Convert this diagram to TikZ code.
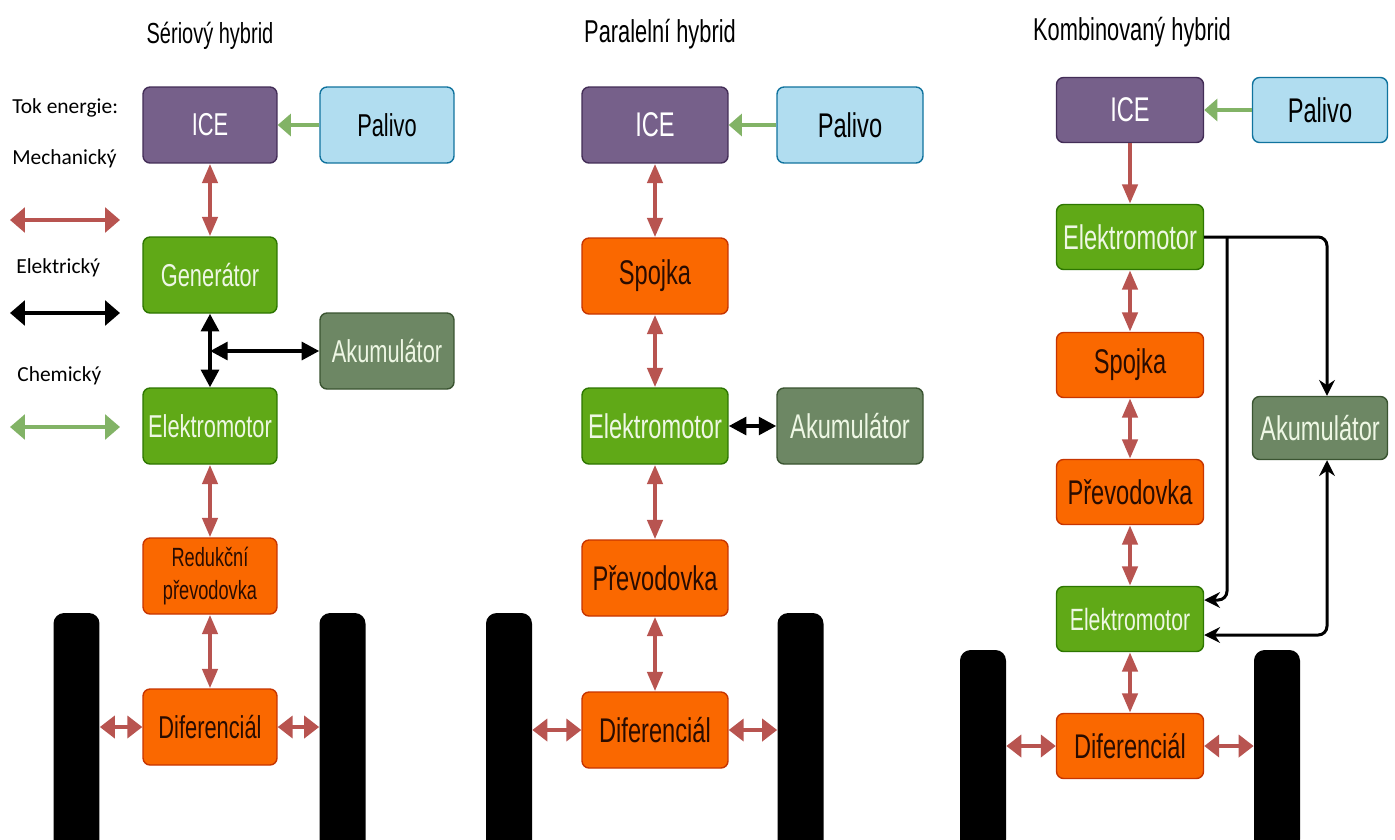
\documentclass[tikz,border=0pt]{standalone}
\usepackage{fontspec}
\setmainfont{Liberation Sans}[FakeStretch=0.69]
\newfontfamily\legendfont{Carlito}
\usepackage{xcolor}
\usetikzlibrary{arrows.meta}
\definecolor{iceFill}{HTML}{76608A}
\definecolor{iceLine}{HTML}{432D57}
\definecolor{palFill}{HTML}{B1DDF0}
\definecolor{palLine}{HTML}{10739E}
\definecolor{genFill}{HTML}{60A917}
\definecolor{genLine}{HTML}{2D7600}
\definecolor{akuFill}{HTML}{6D8764}
\definecolor{akuLine}{HTML}{3A5431}
\definecolor{oraFill}{HTML}{FA6800}
\definecolor{oraLine}{HTML}{C73500}
\definecolor{mechCol}{HTML}{B85450}
\definecolor{chemCol}{HTML}{82B366}
\definecolor{lightText}{HTML}{EEF7E4}
\definecolor{darkText}{HTML}{2A0C00}

\begin{document}
\begin{tikzpicture}[x=0.02cm,y=0.02cm]
\tikzstyle{every node}+=[inner sep=0pt]
\tikzstyle{blok}=[draw, rounded corners=4pt, line width=0.8pt, align=center, font=\fontsize{19.5}{22}\selectfont]
\tikzstyle{aBlok}=[blok, minimum width=2.68cm, minimum height=1.52cm, font=\fontsize{18}{20}\selectfont]
\tikzstyle{bBlok}=[blok, minimum width=2.92cm, minimum height=1.52cm]
\tikzstyle{cBlok}=[blok, minimum width=2.94cm, minimum height=1.3cm]
\tikzstyle{ice}=[fill=iceFill, draw=iceLine, text=white]
\tikzstyle{palivo}=[fill=palFill, draw=palLine, text=black]
\tikzstyle{motor}=[fill=genFill, draw=genLine, text=lightText]
\tikzstyle{aku}=[fill=akuFill, draw=akuLine, text=lightText]
\tikzstyle{oranz}=[fill=oraFill, draw=oraLine, text=darkText]
\tikzstyle{kolo}=[fill=black, rounded corners=6pt, minimum width=0.92cm, minimum height=4.8cm]
\tikzstyle{titul}=[anchor=base, font=\fontsize{18}{20}\selectfont]
\tikzstyle{legenda}=[anchor=base west, font=\legendfont\fontsize{12.2}{14}\selectfont]
\tikzstyle{mech}=[draw=mechCol, line width=2.4pt, arrows={Triangle[width=8.5pt,length=11pt]-Triangle[width=8.5pt,length=11pt]}]
\tikzstyle{mechH}=[draw=mechCol, line width=2.6pt, arrows={Triangle[width=12.5pt,length=8.5pt]-Triangle[width=12.5pt,length=8.5pt]}]
\tikzstyle{mechLeg}=[draw=mechCol, line width=2.8pt, arrows={Triangle[width=14pt,length=8.5pt]-Triangle[width=14pt,length=8.5pt]}]
\tikzstyle{elek}=[draw=black, line width=2.3pt, arrows={Triangle[width=10pt,length=10pt]-Triangle[width=10pt,length=10pt]}]
\tikzstyle{elekLeg}=[draw=black, line width=2.8pt, arrows={Triangle[width=14pt,length=8.5pt]-Triangle[width=14pt,length=8.5pt]}]
\tikzstyle{chem}=[draw=chemCol, line width=2.8pt, arrows={-Triangle[width=12.5pt,length=7.5pt]}]
\tikzstyle{chemLeg}=[draw=chemCol, line width=2.8pt, arrows={Triangle[width=14pt,length=8.5pt]-Triangle[width=14pt,length=8.5pt]}]
\tikzstyle{vodic}=[draw=black, line width=1.7pt, rounded corners=5pt, arrows={-Stealth[width=9pt,length=9pt,inset=3pt]}]
\useasboundingbox (0,0) rectangle (1395,-839);
\fill[white] (0,0) rectangle (1395,-839);

\node[legenda] (tok) at (12,-113) {Tok energie:};
\node[legenda] (legMech) at (12,-164) {Mechanický};
\node[legenda] (legElek) at (16,-273) {Elektrický};
\node[legenda] (legChem) at (17,-381) {Chemický};
\coordinate (mechA) at (10,-220);
\coordinate (mechB) at (120,-220);
\coordinate (elekA) at (10,-313);
\coordinate (elekB) at (120,-313);
\coordinate (chemA) at (10,-427);
\coordinate (chemB) at (120,-427);
\draw[mechLeg] (mechA) -- (mechB);
\draw[elekLeg] (elekA) -- (elekB);
\draw[chemLeg] (chemA) -- (chemB);

\node[titul, font=\fontsize{16.5}{18}\selectfont] (aTitul) at (210,-43) {Sériový hybrid};
\node[aBlok, ice] (aIce) at (210,-125) {ICE};
\node[aBlok, palivo] (aPal) at (387,-125) {Palivo};
\node[aBlok, motor] (aGen) at (210,-275) {Generátor};
\node[aBlok, aku] (aAku) at (387,-351) {Akumulátor};
\node[aBlok, motor] (aEmot) at (210,-426) {Elektromotor};
\node[aBlok, oranz, font=\fontsize{15}{18.5}\selectfont] (aRed) at (210,-576) {Redukční\\převodovka};
\node[aBlok, oranz] (aDif) at (210,-727) {Diferenciál};
\node[kolo] (aKoloL) at (76.5,-733) {};
\node[kolo] (aKoloP) at (342.5,-733) {};
\draw[chem] (aPal) -- (aIce);
\draw[mech] (aIce) -- (aGen);
\draw[elek] (aGen) -- (aEmot);
\draw[elek] (aAku.west) -- (aGen.south |- aAku.west);
\draw[mech] (aEmot) -- (aRed);
\draw[mech] (aRed) -- (aDif);
\draw[mechH] (aDif.west) -- (aDif.west -| aKoloL.east);
\draw[mechH] (aDif.east) -- (aDif.east -| aKoloP.west);

\node[titul] (bTitul) at (660,-42) {Paralelní hybrid};
\node[bBlok, ice] (bIce) at (655,-125) {ICE};
\node[bBlok, palivo] (bPal) at (850,-125) {Palivo};
\node[bBlok, oranz] (bSpoj) at (655,-276) {Spojka};
\node[bBlok, motor] (bEmot) at (655,-426) {Elektromotor};
\node[bBlok, aku] (bAku) at (850,-426) {Akumulátor};
\node[bBlok, oranz] (bPrev) at (655,-578) {Převodovka};
\node[bBlok, oranz] (bDif) at (655,-730) {Diferenciál};
\node[kolo] (bKoloL) at (509,-733) {};
\node[kolo] (bKoloP) at (800.5,-733) {};
\draw[chem] (bPal) -- (bIce);
\draw[mech] (bIce) -- (bSpoj);
\draw[mech] (bSpoj) -- (bEmot);
\draw[elek] (bEmot) -- (bAku);
\draw[mech] (bEmot) -- (bPrev);
\draw[mech] (bPrev) -- (bDif);
\draw[mechH] (bDif.west) -- (bDif.west -| bKoloL.east);
\draw[mechH] (bDif.east) -- (bDif.east -| bKoloP.west);

\node[titul] (cTitul) at (1132,-40) {Kombinovaný hybrid};
\node[cBlok, ice] (cIce) at (1130,-110) {ICE};
\node[cBlok, palivo, minimum width=2.7cm] (cPal) at (1320,-110) {Palivo};
\node[cBlok, motor] (cEmot) at (1130,-237) {Elektromotor};
\node[cBlok, oranz] (cSpoj) at (1130,-365) {Spojka};
\node[cBlok, oranz] (cPrev) at (1130,-492) {Převodovka};
\node[cBlok, motor, font=\fontsize{17.5}{20}\selectfont] (cEmot2) at (1130,-619) {Elektromotor};
\node[cBlok, oranz] (cDif) at (1130,-746) {Diferenciál};
\node[cBlok, aku, minimum width=2.7cm, minimum height=1.26cm] (cAku) at (1320,-428) {Akumulátor};
\node[kolo, minimum height=4cm] (cKoloL) at (983,-750) {};
\node[kolo, minimum height=4cm] (cKoloP) at (1277,-750) {};
\coordinate (cRoz) at (1227,-237);
\draw[chem] (cPal) -- (cIce);
\draw[mech, arrows={-Triangle[width=8.5pt,length=11pt]}] (cIce) -- (cEmot);
\draw[mech] (cEmot) -- (cSpoj);
\draw[mech] (cSpoj) -- (cPrev);
\draw[mech] (cPrev) -- (cEmot2);
\draw[mech] (cEmot2) -- (cDif);
\draw[mechH] (cDif.west) -- (cDif.west -| cKoloL.east);
\draw[mechH] (cDif.east) -- (cDif.east -| cKoloP.west);
\draw[vodic] (cEmot.east) -| ([xshift=0.14cm]cAku.north);
\draw[vodic] (cRoz) |- ([yshift=0.38cm]cEmot2.east);
\draw[vodic, arrows={Stealth[width=9pt,length=9pt,inset=3pt]-Stealth[width=9pt,length=9pt,inset=3pt]}] ([yshift=-0.32cm]cEmot2.east) -| ([xshift=0.14cm]cAku.south);
\end{tikzpicture}
\end{document}
